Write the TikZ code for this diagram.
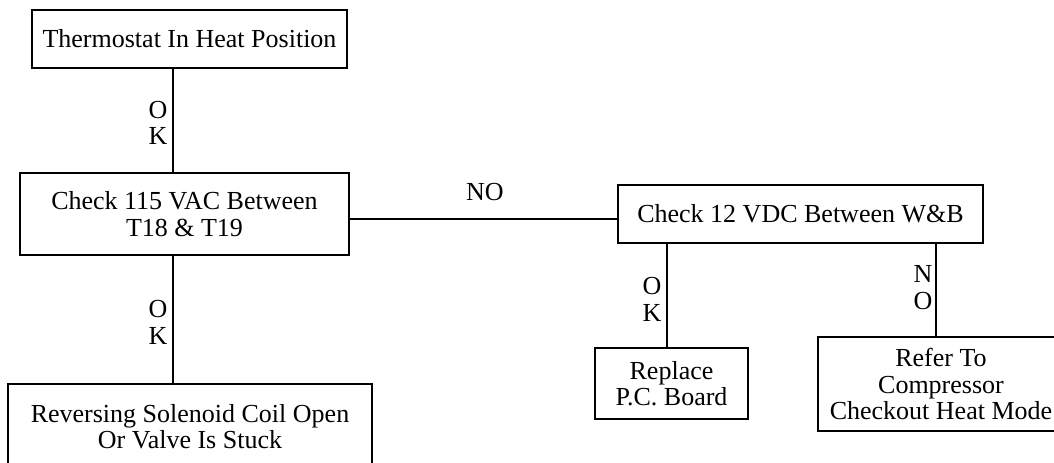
\documentclass[tikz,border=0pt]{standalone}
\usepackage{fontspec}
\setmainfont{Liberation Serif}

\begin{document}
\begin{tikzpicture}[x=0.75pt,y=0.75pt,yscale=-1,xscale=1,
  every node/.style={font=\fontsize{19.5}{20}\selectfont},
  box/.style={draw,line width=1.2pt,rectangle,inner sep=0pt,align=center},
  lbl/.style={inner sep=0pt,align=center}]
\useasboundingbox (0,0) rectangle (1054,462);

% Shape: Rectangle
\node [box,minimum width=236.25pt,minimum height=43.5pt] (therm) at (189.5,39) {Thermostat In Heat Position};
% Shape: Rectangle
\node [box,minimum width=246.75pt,minimum height=61.5pt] (check115) at (184.5,214) {Check 115 VAC Between\\T18 \& T19};
% Shape: Rectangle
\node [box,minimum width=273pt,minimum height=63.75pt] (solenoid) at (190,426.5) {Reversing Solenoid Coil Open\\Or Valve Is Stuck};
% Shape: Rectangle
\node [box,minimum width=273.75pt,minimum height=43.5pt] (check12) at (800.5,214) {Check 12 VDC Between W\&B};
% Shape: Rectangle
\node [box,minimum width=114.75pt,minimum height=53.25pt] (pcboard) at (671.5,383.5) {Replace\\P.C. Board};
% Shape: Rectangle
\node [box,minimum width=184.5pt,minimum height=70.5pt] (refer) at (941,384) {Refer To\\Compressor\\Checkout Heat Mode};

\coordinate (trunk) at (173,0);
\coordinate (okline) at (667,0);
\coordinate (noline) at (936,0);

%Straight Lines
\draw [line width=1.2pt]  (therm.south -| trunk) -- (check115.north -| trunk) ;
%Straight Lines
\draw [line width=1.2pt]  (check115.south -| trunk) -- (solenoid.north -| trunk) ;
%Straight Lines
\draw [line width=1.2pt]  ([yshift=3.75pt]check115.east) -- ([yshift=3.75pt]check12.west) ;
%Straight Lines
\draw [line width=1.2pt]  (check12.south -| okline) -- (pcboard.north -| okline) ;
%Straight Lines
\draw [line width=1.2pt]  (check12.south -| noline) -- (refer.north -| noline) ;

% Text Node
\node [lbl] (ok1) at (158,123) {O\\K};
% Text Node
\node [lbl] (ok2) at (158,322.5) {O\\K};
% Text Node
\node [lbl] (no1) at (485,192) {NO};
% Text Node
\node [lbl] (ok3) at (652,299.5) {O\\K};
% Text Node
\node [lbl] (no2) at (923,287.5) {N\\O};

\end{tikzpicture}
\end{document}
